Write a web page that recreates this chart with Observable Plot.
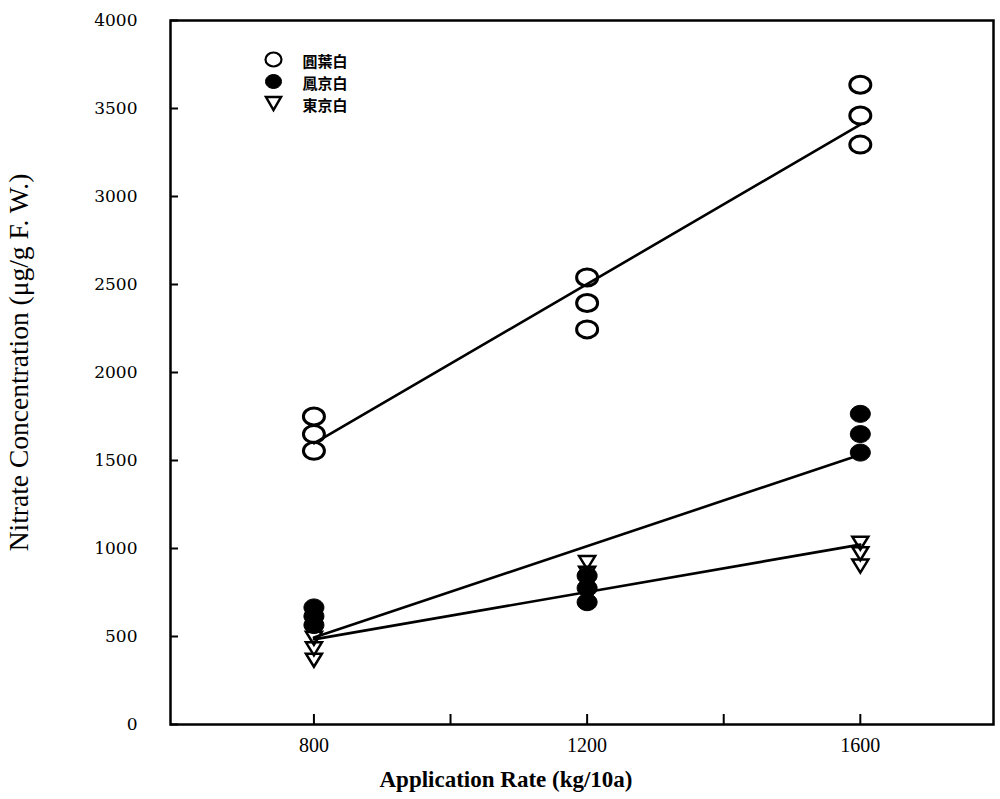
<!DOCTYPE html>
<html><head><meta charset="utf-8">
<script src="https://cdn.jsdelivr.net/npm/d3@7"></script>
<script src="https://cdn.jsdelivr.net/npm/@observablehq/plot@0.6"></script>
<style>body{margin:0;background:#fff}</style>
</head><body><div id="chart"></div>
<script>
// ---- data ----
const rates = [800, 1200, 1600];
const seriesNames = ["圓葉白", "鳳京白", "東京白"];
const yuanYeBai = [[1750, 1650, 1555], [2540, 2395, 2245], [3635, 3460, 3295]];
const fengJingBai = [[665, 615, 565], [845, 775, 695], [1765, 1650, 1545]];
const dongJingBai = [[490, 430, 365], [920, 860, 810], [1030, 970, 900]];
const yTicks = [0, 500, 1000, 1500, 2000, 2500, 3000, 3500, 4000];
const xTicks = [800, 1000, 1200, 1400, 1600];
const xLabels = [800, 1200, 1600];
const xTitle = "Application Rate (kg/10a)";
const yTitle = "Nitrate Concentration (\u03bcg/g F. W.)";

const allSeries = [yuanYeBai, fengJingBai, dongJingBai];
const rows = [];
allSeries.forEach((vals, s) => vals.forEach((reps, i) => reps.forEach(v =>
  rows.push({series: seriesNames[s], rate: rates[i], value: v}))));

// ---- symbols ----
function ellipse(rx, ry) {
  const k = 0.5523;
  return {draw(c) {
    c.moveTo(rx, 0);
    c.bezierCurveTo(rx, ry * k, rx * k, ry, 0, ry);
    c.bezierCurveTo(-rx * k, ry, -rx, ry * k, -rx, 0);
    c.bezierCurveTo(-rx, -ry * k, -rx * k, -ry, 0, -ry);
    c.bezierCurveTo(rx * k, -ry, rx, -ry * k, rx, 0);
    c.closePath();
  }};
}
function triDown(w, h) {
  return {draw(c) {
    c.moveTo(-w / 2, -h / 2);
    c.lineTo(w / 2, -h / 2);
    c.lineTo(0, h / 2);
    c.closePath();
  }};
}
const styles = [
  {symbol: ellipse(10.5, 8.5), legendSymbol: ellipse(8, 7), fill: "none", stroke: "black", strokeWidth: 3},
  {symbol: ellipse(10, 8.5), legendSymbol: ellipse(8, 7), fill: "black", stroke: "black", strokeWidth: 1},
  {symbol: triDown(16, 13), legendSymbol: triDown(15, 13), fill: "none", stroke: "black", strokeWidth: 2.5}
];

const legendGap = 22;
const fmt = d3.format("d");
const marks = [
  Plot.frame({strokeWidth: 2.5}),
  Plot.axisY(yTicks, {anchor: "left", tickSize: -8, tickPadding: 41, strokeWidth: 2, tickFormat: fmt,
    fontFamily: "DejaVu Serif", fontSize: 17, label: null}),
  Plot.axisX(xTicks, {anchor: "bottom", tickSize: -10, strokeWidth: 2, tickFormat: () => "", label: null}),
  Plot.axisX(xLabels, {anchor: "bottom", tickSize: 0, tickPadding: 13, tickFormat: fmt,
    fontFamily: "Liberation Serif", fontSize: 20, label: null}),
  Plot.linearRegressionY(rows, {x: "rate", y: "value", z: "series", ci: 0, stroke: "black", strokeWidth: 2.6})
];
seriesNames.forEach((name, i) => {
  const st = styles[i];
  marks.push(Plot.dot(rows.filter(d => d.series === name), {
    x: "rate", y: "value", symbol: st.symbol, r: 8, fill: st.fill, stroke: st.stroke, strokeWidth: st.strokeWidth
  }));
  marks.push(Plot.dot([name], {
    frameAnchor: "top-left", dx: 103, dy: 39 + legendGap * i, symbol: st.legendSymbol, r: 7,
    fill: st.fill, stroke: st.stroke, strokeWidth: i === 0 ? 2.2 : st.strokeWidth
  }));
});
// legend labels as one multi-line text block
marks.push(Plot.text([seriesNames.join("\n")], {
  frameAnchor: "top-left", dx: 132, dy: 39 + legendGap, text: d => d, textAnchor: "start", lineAnchor: "middle",
  lineHeight: legendGap / 15, fontFamily: "Noto Sans CJK TC", fontSize: 15, fontWeight: "bold", fill: "black"
}));
marks.push(Plot.text([xTitle], {frameAnchor: "bottom", dx: -76, dy: 62, text: d => d,
  fontFamily: "Liberation Serif", fontSize: 23, fontWeight: "bold", fill: "black"}));
marks.push(Plot.text([yTitle], {frameAnchor: "left", dx: -151, dy: -10, rotate: -90, text: d => d,
  textAnchor: "middle", fontFamily: "Liberation Serif", fontSize: 27.5, fill: "black"}));

const chart = Plot.plot({
  width: 1000, height: 799,
  marginLeft: 170, marginRight: 7, marginTop: 20, marginBottom: 75,
  x: {domain: [590, 1795]},
  y: {domain: [0, 4000]},
  style: {background: "white", color: "black", overflow: "visible"},
  marks
});
document.getElementById("chart").appendChild(chart);
</script>
</body></html>
